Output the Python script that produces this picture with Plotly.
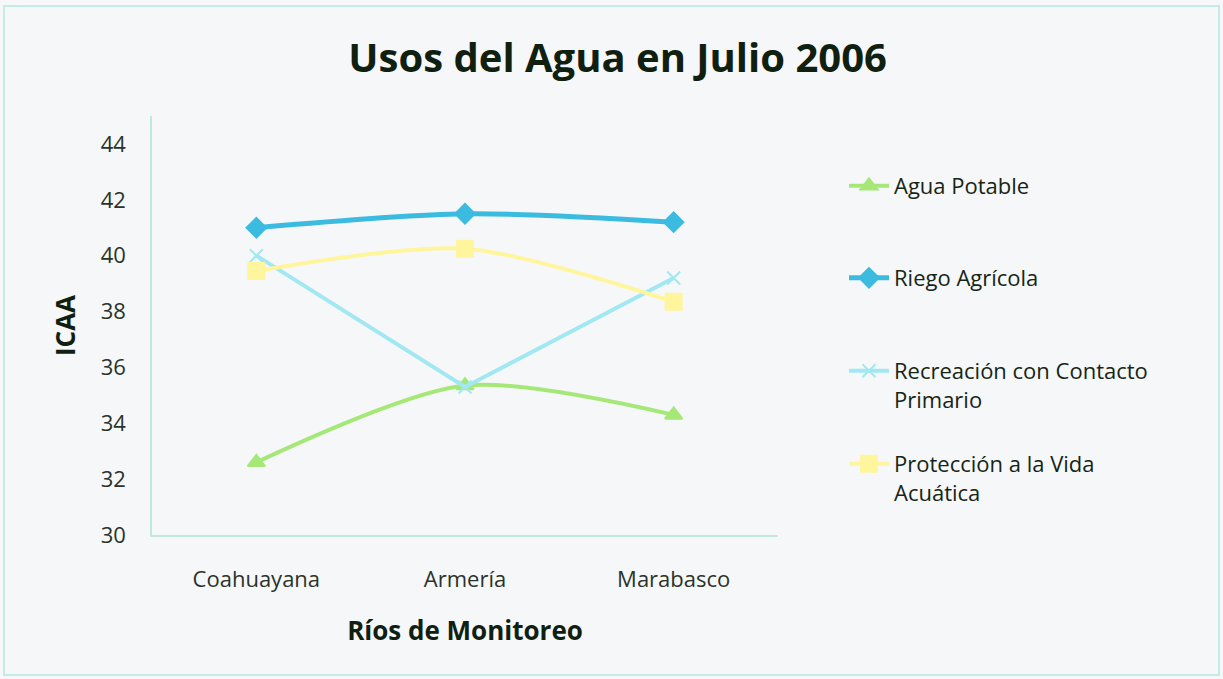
import plotly.graph_objects as go

rivers = ["Coahuayana", "Armería", "Marabasco"]
agua_potable = [32.6, 35.35, 34.3]
riego_agricola = [41.0, 41.5, 41.2]
recreacion = [40.0, 35.3, 39.2]
proteccion = [39.45, 40.25, 38.35]

series_names = ["Agua Potable", "Riego Agrícola",
                "Recreación con Contacto<br>Primario",
                "Protección a la Vida<br>Acuática"]
series_values = [agua_potable, riego_agricola, recreacion, proteccion]
colors = ["#a6e878", "#3bbbe0", "#a2e8f2", "#fff59c"]
symbols = ["triangle-up", "diamond", "x-thin", "square"]
sizes = [15, 15, 13, 16]
shapes = ["spline", "spline", "linear", "spline"]
widths = [4, 5, 4, 4]
legend_ids = ["legend", "legend2", "legend3", "legend4"]
legend_tops = [165, 257, 350, 443]   # pixel tops of legend boxes

fig = go.Figure()
for i in range(4):
    fig.add_trace(go.Scatter(
        x=rivers, y=series_values[i], name=series_names[i], mode="lines+markers",
        line=dict(color=colors[i], width=widths[i], shape=shapes[i], smoothing=0.8),
        marker=dict(symbol=symbols[i], size=sizes[i], color=colors[i],
                    line=dict(color=colors[i], width=2)),
        legend=legend_ids[i],
    ))

font_family = "Open Sans, Noto Sans, sans-serif"
PLOT_TOP, PLOT_BOTTOM, PLOT_LEFT, PLOT_RIGHT = 116, 535, 152, 778
ph = PLOT_BOTTOM - PLOT_TOP
pw = PLOT_RIGHT - PLOT_LEFT

layout_legends = {}
for lid, top in zip(legend_ids, legend_tops):
    layout_legends[lid] = dict(
        x=(844 - PLOT_LEFT) / pw, xanchor="left",
        y=(PLOT_BOTTOM - top) / ph, yanchor="top",
        font=dict(family=font_family, size=22, color="#152515"),
        valign="top", bgcolor="rgba(0,0,0,0)", itemwidth=40,
    )

fig.update_layout(
    width=1223, height=679,
    margin=dict(l=PLOT_LEFT, r=1223 - PLOT_RIGHT, t=PLOT_TOP, b=679 - PLOT_BOTTOM),
    paper_bgcolor="#f6f7f9", plot_bgcolor="#f6f7f9",
    title=dict(text="<b>Usos del Agua en Julio 2006</b>", x=0.505, xanchor="center",
               y=0.915, yanchor="middle",
               font=dict(family=font_family, size=40, color="#102010")),
    font=dict(family=font_family, color="#2a332a"),
    xaxis=dict(range=[-0.5, 2.5], showgrid=False, zeroline=False,
               showline=True, linecolor="#bfe8e0", linewidth=1.5,
               ticks="", ticklabelstandoff=24,
               tickfont=dict(size=22, color="#2a332a"),
               title=dict(text="<b>Ríos de Monitoreo</b>", standoff=30,
                          font=dict(size=26, color="#102010"))),
    yaxis=dict(range=[30, 45], tickvals=[30, 32, 34, 36, 38, 40, 42, 44],
               showgrid=False, zeroline=False,
               showline=True, linecolor="#bfe8e0", linewidth=1.5,
               ticks="", ticklabelstandoff=20,
               tickfont=dict(size=22, color="#2a332a"),
               title=dict(text="<b>ICAA</b>", standoff=18,
                          font=dict(size=26, color="#102010"))),
    showlegend=True,
    shapes=[dict(type="rect", xref="paper", yref="paper",
                 x0=(4 - PLOT_LEFT) / pw, x1=(1219 - PLOT_LEFT) / pw,
                 y0=(PLOT_BOTTOM - 675) / ph, y1=(PLOT_BOTTOM - 6) / ph,
                 line=dict(color="#c4ece6", width=2), layer="below")],
    **layout_legends,
)

fig.write_html("out.html")
